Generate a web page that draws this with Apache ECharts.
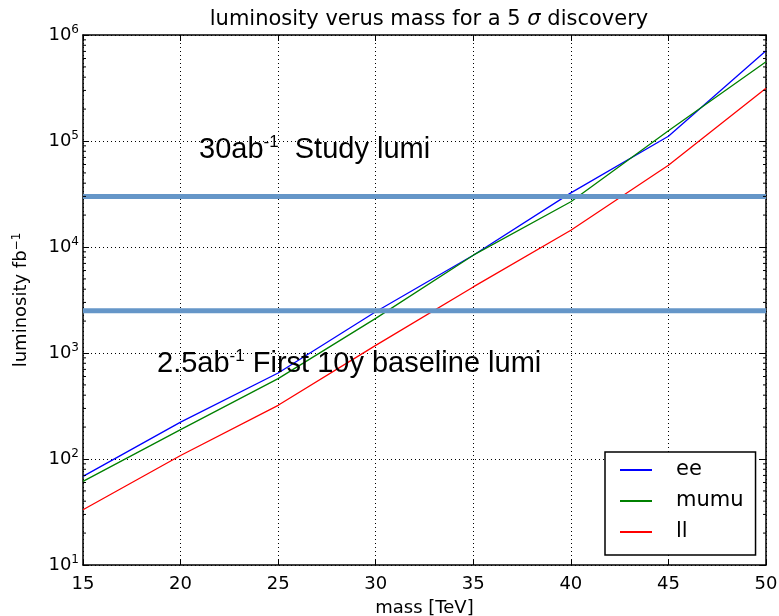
<!DOCTYPE html>
<html><head><meta charset="utf-8">
<script src="https://cdn.jsdelivr.net/npm/echarts@6/dist/echarts.min.js"></script>
<style>html,body{margin:0;padding:0;background:#fff}#c{width:779px;height:616px}</style>
</head><body><div id="c"></div>
<script>
const masses = [15, 20, 25, 30, 35, 40, 45, 50];
const ee   = [68.5, 223, 647, 2450, 8370, 32400, 111000, 711000];
const mumu = [61.5, 189, 573, 2120, 8370, 26700, 125000, 560000];
const ll   = [33.2, 108, 321, 1180, 4200, 14400, 59100, 314000];
const studyLumi = 30000;
const baselineLumi = 2500;
const xTicks = [15, 20, 25, 30, 35, 40, 45, 50];

const F = 'DejaVu Sans';
const pair = (xs, ys) => xs.map((x, i) => [x, ys[i]]);
const minorVals = [];
for (let k = 1; k < 6; k++) for (let m = 2; m <= 9; m++) minorVals.push(m * Math.pow(10, k));

const chart = echarts.init(document.getElementById('c'), null, {renderer: 'canvas'});
const sup = {fontFamily: F, fontSize: 12, verticalAlign: 'top', padding: [0, 0, 10, 0], color: '#000'};
chart.setOption({
  animation: false,
  title: {
    text: '{n|luminosity verus mass for a 5 }{i|σ}{n| discovery}',
    left: 424, top: 4, textAlign: 'center',
    textStyle: {fontWeight: 'normal', rich: {
      n: {fontFamily: F, fontSize: 21, fontWeight: 'normal', color: '#000'},
      i: {fontFamily: F, fontSize: 21, fontWeight: 'normal', fontStyle: 'italic', color: '#000'}}}
  },
  grid: {left: 83, right: 13, top: 35, bottom: 51, containLabel: false, outerBoundsMode: 'none'},
  legend: {
    data: ['ee', 'mumu', 'll'],
    orient: 'vertical', left: 605, top: 452,
    icon: 'rect', itemWidth: 32, itemHeight: 2, itemGap: 9,
    padding: [7, 12, 12, 15],
    borderColor: '#000', borderWidth: 1.5, backgroundColor: '#fff',
    textStyle: {fontFamily: F, fontSize: 21, color: '#000', lineHeight: 22, padding: [0, 0, 0, 19]}
  },
  xAxis: [{
    type: 'value', min: 15, max: 50, interval: 5,
    name: 'mass [TeV]', nameLocation: 'middle', nameGap: 34,
    nameTextStyle: {fontFamily: F, fontSize: 18, color: '#000'},
    axisLine: {lineStyle: {color: '#000', width: 1.5}},
    axisTick: {inside: true, length: 6, lineStyle: {color: '#000'}},
    axisLabel: {fontFamily: F, fontSize: 18, color: '#000', margin: 10},
    splitLine: {show: true, lineStyle: {color: '#000', type: [1, 3], width: 1}}
  }, {
    type: 'value', min: 15, max: 50, interval: 5, position: 'top',
    axisLine: {lineStyle: {color: '#000', width: 1.5}},
    axisTick: {inside: true, length: 6, lineStyle: {color: '#000'}},
    axisLabel: {show: false}, splitLine: {show: false}
  }],
  yAxis: [{
    type: 'log', logBase: 10, min: 10, max: 1e6,
    name: '{n|luminosity fb}{s|−1}', nameLocation: 'middle', nameGap: 52, nameRotate: 90,
    nameTextStyle: {rich: {n: {fontFamily: F, fontSize: 18, color: '#000'}, s: {fontFamily: F, fontSize: 12, verticalAlign: 'top', padding: [0, 0, 8, 0], color: '#000'}}},
    axisLine: {show: true, lineStyle: {color: '#000', width: 1.5}},
    axisTick: {inside: true, length: 6, lineStyle: {color: '#000'}},
    axisLabel: {
      fontFamily: F, fontSize: 18, color: '#000', margin: 4,
      formatter: v => '{b|10}{s|' + Math.round(Math.log10(v)) + '}',
      rich: {b: {fontFamily: F, fontSize: 18, color: '#000'}, s: sup}
    },
    splitLine: {show: true, lineStyle: {color: '#000', type: [1, 3], width: 1}}
  }, {
    type: 'log', logBase: 10, min: 10, max: 1e6, position: 'right',
    axisLine: {show: true, lineStyle: {color: '#000', width: 1.5}},
    axisTick: {inside: true, length: 6, lineStyle: {color: '#000'}},
    axisLabel: {show: false}, splitLine: {show: false}
  }],
  graphic: [
    {type: 'text', left: 199, top: 134, z: 100,
     style: {text: '{b|30ab}{s|-1}{b|  Study lumi}', rich: {
       b: {fontFamily: 'Liberation Sans', fontSize: 29, color: '#000', lineHeight: 31},
       s: {fontFamily: 'Liberation Sans', fontSize: 17, color: '#000', verticalAlign: 'top', lineHeight: 31}}}},
    {type: 'text', left: 157, top: 348, z: 100,
     style: {text: '{b|2.5ab}{s|-1}{b| First 10y baseline lumi}', rich: {
       b: {fontFamily: 'Liberation Sans', fontSize: 29, color: '#000', lineHeight: 31},
       s: {fontFamily: 'Liberation Sans', fontSize: 17, color: '#000', verticalAlign: 'top', lineHeight: 31}}}}
  ],
  series: [
    {name: 'ee', type: 'line', data: pair(masses, ee), symbol: 'none', lineStyle: {color: '#0000ff', width: 1.3}, itemStyle: {color: '#0000ff'}, z: 3},
    {name: 'mumu', type: 'line', data: pair(masses, mumu), symbol: 'none', lineStyle: {color: '#008000', width: 1.3}, itemStyle: {color: '#008000'}, z: 3},
    {name: 'll', type: 'line', data: pair(masses, ll), symbol: 'none', lineStyle: {color: '#ff0000', width: 1.3}, itemStyle: {color: '#ff0000'}, z: 3},
    {name: 'study', type: 'line', data: [[15, studyLumi], [50, studyLumi]], symbol: 'none', lineStyle: {color: '#6596c8', width: 5}, z: 5, silent: true},
    {name: 'baseline', type: 'line', data: [[15, baselineLumi], [50, baselineLumi]], symbol: 'none', lineStyle: {color: '#6596c8', width: 5}, z: 5, silent: true},
    {name: 'minor', type: 'custom', silent: true, z: 6,
     data: minorVals,
     encode: {y: 0},
     renderItem: (params, api) => {
       const v = api.value(0);
       const l = api.coord([15, v]);
       const r = api.coord([50, v]);
       return {type: 'group', children: [
         {type: 'line', shape: {x1: l[0], y1: l[1], x2: l[0] + 3, y2: l[1]}, style: {stroke: '#000', lineWidth: 1}},
         {type: 'line', shape: {x1: r[0], y1: r[1], x2: r[0] - 3, y2: r[1]}, style: {stroke: '#000', lineWidth: 1}}
       ]};
     }}
  ]
});
</script></body></html>
